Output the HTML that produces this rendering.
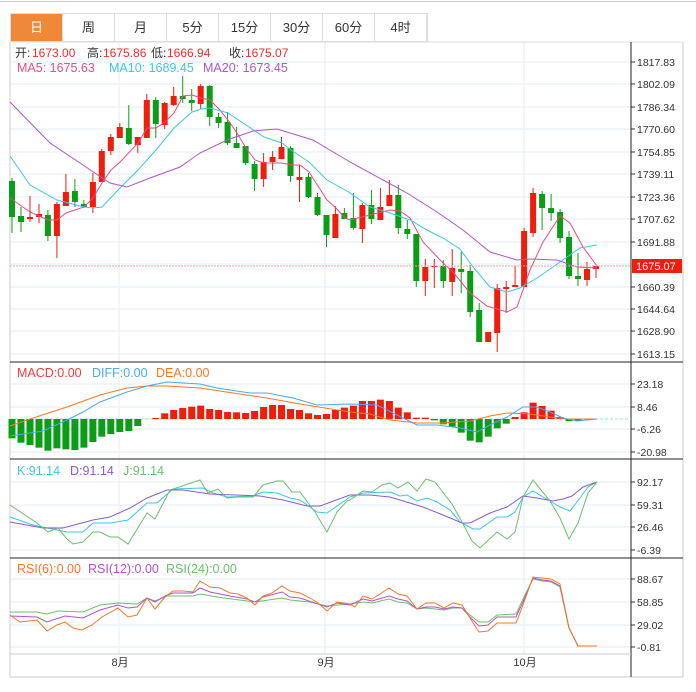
<!DOCTYPE html>
<html><head><meta charset="utf-8">
<style>
html,body{margin:0;padding:0;background:#fff;width:696px;height:692px;overflow:hidden;font-family:"Liberation Sans","Noto Sans CJK SC",sans-serif;}
.tabs{position:absolute;left:10px;top:13px;height:27px;display:flex;border:1px solid #ddd;}
.tabs div{width:51px;height:27px;line-height:27px;text-align:center;font-size:13px;color:#333;border-right:1px solid #ddd;}
.tabs div.on{background:#f0883a;color:#fff;}
svg{position:absolute;left:0;top:0;}
</style></head><body>
<div style="position:absolute;left:0;top:1px;width:696px;height:1px;background:#ccc"></div>
<div class="tabs"><div class="on">日</div><div>周</div><div>月</div><div>5分</div><div>15分</div><div>30分</div><div>60分</div><div>4时</div></div>
<svg id="s" width="696" height="692" xmlns="http://www.w3.org/2000/svg" font-family="Liberation Sans, Noto Sans CJK SC, sans-serif"></svg>
<script>
var S=document.getElementById('s'),h='';
function L(x1,y1,x2,y2,c,w,d){h+='<line x1="'+x1+'" y1="'+y1+'" x2="'+x2+'" y2="'+y2+'" stroke="'+c+'" stroke-width="'+(w||1)+'"'+(d?' stroke-dasharray="'+d+'"':'')+'/>';}
function R(x,y,w,hh,c){h+='<rect x="'+x+'" y="'+y+'" width="'+w+'" height="'+Math.max(hh,1)+'" fill="'+c+'"/>';}
function T(x,y,t,c,s,a){h+='<text x="'+x+'" y="'+y+'" fill="'+c+'" font-size="'+(s||11)+'"'+(a?' text-anchor="'+a+'"':'')+'>'+t+'</text>';}
function P(pts,c){h+='<polyline fill="none" stroke="'+c+'" stroke-width="1" points="'+pts+'"/>';}
var G='#e6eef3';
[62,84,107,129,152,174,197,219,242,264,287,309,331,354].forEach(function(y){L(10,y,631,y,G);});
[384,407,429,452].forEach(function(y){L(10,y,631,y,G);});
[482,505,527,550].forEach(function(y){L(10,y,631,y,G);});
[579,602,625,647].forEach(function(y){L(10,y,631,y,G);});
[119,325,524].forEach(function(x){L(x,42,x,654,G);});
L(10,42,10,677,'#ccc');L(683,42,683,677,'#ccc');L(10,677,683,677,'#ccc');L(10,42,683,42,'#ddd');
L(631,42,631,677,'#222');
L(10,362,683,362,'#222');L(10,459,683,459,'#222');L(10,558,683,558,'#222');L(10,654,631,654,'#ccc');
var pl=[[62,'1817.83'],[84,'1802.09'],[107,'1786.34'],[129,'1770.60'],[152,'1754.85'],[174,'1739.11'],[197,'1723.36'],[219,'1707.62'],[242,'1691.88'],[287,'1660.39'],[309,'1644.64'],[331,'1628.90'],[354,'1613.15']];
function ax(arr){arr.forEach(function(a){L(631,a[0],635,a[0],'#333');T(637,a[0]+4,a[1],'#333',10.5);});}
ax(pl);ax([[384,'23.18'],[407,'8.46'],[429,'-6.26'],[452,'-20.98']]);
ax([[482,'92.17'],[505,'59.31'],[527,'26.46'],[550,'-6.39']]);
ax([[579,'88.67'],[602,'58.85'],[625,'29.02'],[647,'-0.81']]);
var r='#f01c0c',g='#0a9e16';
var C=[['g',181,217,178,233],['g',216,222,207,232],['r',217,219,196,222],['r',214,217,204,223],['g',215,236,210,241],['r',204,236,202,258],['r',192,206,174,206],['g',191,202,179,207],['g',204,207,200,208],['r',182,207,173,213],['r',151,182,149,182],['r',137,151,134,155],['r',127,138,123,138],['g',128,144,105,145],['r',137,145,137,153],['r',100,138,94,138],['g',100,124,97,138],['r',103,125,102,129],['r',96,105,87,106],['g',96,99,76,103],['g',100,103,89,111],['r',86,104,84,109],['g',86,117,85,126],['g',117,123,113,128],['g',122,143,112,145],['g',143,148,127,148],['g',146,163,146,165],['g',164,179,161,191],['r',162,179,153,187],['r',157,162,151,170],['r',147,159,137,159],['g',148,176,146,182],['r',177,180,165,202],['g',177,197,173,198],['g',197,215,193,216],['g',215,235,215,247],['r',214,238,206,238],['g',213,219,208,219],['g',218,228,193,230],['r',205,229,203,243],['g',205,219,190,224],['r',207,220,188,220],['r',195,206,180,206],['g',195,228,185,234],['g',229,234,220,239],['g',234,281,234,287],['r',267,281,259,296],['r',266,267,259,288],['g',266,281,260,288],['r',268,282,249,296],['g',269,272,252,293],['g',271,312,265,317],['g',310,342,303,342],['r',332,342,332,342],['r',288,333,284,352],['r',287,289,281,313],['r',285,287,266,287],['r',231,287,228,287],['r',193,233,188,237],['g',194,208,191,230],['g',208,213,194,221],['g',212,238,209,243],['g',237,276,231,279],['g',276,279,253,286],['r',269,280,262,286],['r',266,269,266,278]];
var sp=584/65;
C.forEach(function(c,i){var x=12+i*sp,col=c[0]=='r'?r:g;L(x.toFixed(1),c[3],x.toFixed(1),c[4],col);R((x-3).toFixed(1),c[1],6,c[2]-c[1],col);});
P('10,198 30,212 48,220 57,220 66,213 84,207 93,198 102,183 111,170 120,162 138,143 147,128 156,128 165,122 174,113 183,96 192,95 201,98 210,100 219,109 228,120 237,133 246,148 255,160 264,163 273,163 282,163 291,165 300,165 309,172 318,186 327,200 336,208 345,218 350,220 390,210 400,211 410,218 423,242 443,263 453,272 470,293 487,306 507,312 517,307 530,270 543,242 560,216 570,223 583,247 597,266','#ec4c80');
P('10,156 30,185 57,200 84,207 93,208 102,207 120,188 138,170 156,150 174,128 192,112 201,109 210,108 228,113 246,125 264,137 282,143 291,150 309,162 327,180 345,190 350,193 370,207 390,213 410,220 427,230 443,238 460,249 473,267 490,287 507,292 520,288 537,278 553,267 567,257 580,248 597,245','#3cc8e0');
P('10,102 50,143 110,183 127,187 150,178 180,167 200,153 227,140 253,131 277,129 313,140 350,162 383,180 407,193 437,212 463,230 490,252 517,260 530,259 557,260 577,267 597,268','#b054c8');
L(10,266,631,266,'#f5a0a0',1,'2,1');
R(632,259,50,14,r);T(636,270,'1675.07','#fff',11);
function TS(y,arr,s){arr.forEach(function(a){T(a[0],y,a[1],a[2],s||12.5);});}
var rd='#f02c2c',dk='#333';
TS(57,[[15,'开:',dk],[32,'1673.00',rd],[87,'高:',dk],[103,'1675.86',rd],[151,'低:',dk],[167,'1666.94',rd],[229,'收:',dk],[245,'1675.07',rd]],12);
TS(72,[[17,'MA5: 1675.63','#ec4c80'],[109,'MA10: 1689.45','#3cc8e0'],[203,'MA20: 1673.45','#b054c8']]);
TS(377,[[17,'MACD:0.00','#f03c3c'],[92,'DIFF:0.00','#4aa8f0'],[156,'DEA:0.00','#f5782a']]);
TS(475,[[17,'K:91.14','#3cc8e0'],[70,'D:91.14','#8a5cd0'],[123,'J:91.14','#6cbf6c']]);
TS(573,[[17,'RSI(6):0.00','#f5782a'],[88,'RSI(12):0.00','#b054c8'],[166,'RSI(24):0.00','#6cbf6c']]);
L(10,419,631,419,'#9fdcec',1,'3,2');
var gb=[250,263,270,278,287,280,283,285,278,261,245,237,231,228,213];
gb.forEach(function(v,i){var x=12+i*sp,y=355+v/3;R((x-3.5).toFixed(1),419,7,y-419,g);});
R(12+16*sp-3.5,418,7,1,r);
var rt=[175,165,159,155,152,162,165,171,172,174,168,156,150,150,162,165,175,180,177,165,158,152,138,138,134,138,158,172,188,188];
rt.forEach(function(v,i){var x=12+(17+i)*sp,y=355+v/3;R((x-3.5).toFixed(1),y,7,419-y,r);});
var g2=[196,208,215,233,257,262,245,220,206];
g2.forEach(function(v,i){var x=12+(47+i)*sp,y=355+v/3;R((x-3.5).toFixed(1),419,7,y-419,g);});
var r2=[186,172,143,153,167,186];
r2.forEach(function(v,i){var x=12+(56+i)*sp,y=355+v/3;R((x-3.5).toFixed(1),y,7,419-y,r);});
[200,200].forEach(function(v,i){var x=12+(62+i)*sp;R((x-3.5).toFixed(1),419,7,2,g);});
P('10,426 33,418 67,407 100,395 127,388 147,386 167,386 200,388 233,393 267,398 300,404 350,412 370,414 390,420 417,423 443,423 470,421 490,416 507,413 530,414 550,417 567,419 597,419','#f5782a');
P('10,436 43,431 67,420 83,412 100,402 127,392 147,386 167,382 200,384 217,388 250,393 267,393 293,398 317,405 350,404 377,405 397,415 417,425 437,425 460,428 477,432 490,425 507,417 523,407 537,407 550,412 563,418 577,421 597,419','#4aa8f0');
P('10,517 33,525 47,528 67,532 83,532 93,523 110,523 128,520 147,503 157,503 173,489 203,488 213,493 227,497 253,496 263,492 277,493 290,498 300,500 317,512 327,513 350,497 363,493 390,492 400,496 407,495 417,501 427,498 437,502 450,510 460,522 473,529 480,529 497,517 507,517 515,512 523,497 533,491 550,501 560,507 570,511 580,498 588,487 597,482','#3cc8e0');
P('10,522 43,528 63,528 93,520 110,517 130,508 147,498 167,490 183,490 210,494 260,496 283,500 307,506 320,506 350,495 370,495 390,497 423,507 443,515 462,523 470,523 490,513 507,507 523,496 537,498 553,501 563,499 572,496 583,487 597,482','#8a5cd0');
P('10,505 37,523 48,532 58,528 67,539 73,544 83,542 93,532 100,532 110,537 118,537 128,544 147,513 155,519 170,490 200,480 208,493 218,489 227,498 237,497 253,497 263,485 277,481 283,481 292,492 300,492 315,512 327,532 337,512 347,501 350,500 363,491 372,492 382,485 390,483 398,488 408,482 417,491 426,479 435,482 452,504 462,522 472,541 480,548 497,532 507,539 515,532 523,497 533,480 550,501 560,518 569,539 578,523 588,493 597,482','#6cbf6c');
P('10,612 37,612 47,614 58,611 83,612 100,605 118,603 137,604 147,598 155,601 167,596 193,596 200,594 217,597 247,601 255,602 282,598 290,600 310,602 327,606 350,604 363,602 372,603 389,599 398,602 407,603 417,609 426,608 444,610 453,608 462,608 470,615 479,622 488,622 497,615 516,614 523,599 533,579 542,581 551,582 560,587 569,628 578,646 597,646','#6cbf6c');
P('10,616 37,617 47,622 65,616 83,618 100,610 118,605 128,608 137,607 147,598 155,602 165,596 173,593 193,593 200,588 210,592 230,596 247,599 255,602 263,597 282,592 290,597 300,598 327,607 337,603 350,605 363,599 372,601 389,596 398,599 407,601 417,609 426,607 435,607 444,609 453,607 462,608 470,617 479,626 488,625 497,617 516,617 523,602 533,578 542,580 551,581 560,586 569,628 578,646 597,646','#b054c8');
P('10,615 20,622 37,620 47,631 57,625 65,622 73,628 82,630 92,625 102,617 118,608 128,617 137,615 147,598 155,609 165,597 173,591 183,591 193,592 200,581 210,587 220,588 230,593 238,594 247,598 255,605 263,596 272,593 282,586 290,591 300,593 310,598 318,603 327,611 337,602 350,604 355,607 363,596 372,599 380,594 389,588 398,594 407,596 417,609 426,603 435,603 444,608 453,603 462,605 470,618 479,632 488,631 497,623 516,623 523,605 533,577 542,578 551,579 560,584 569,628 578,646 597,646','#f5782a');
T(120,666,'8月','#333',11,'middle');T(326,666,'9月','#333',11,'middle');T(525,666,'10月','#333',11,'middle');
S.innerHTML=h;
</script>
</body></html>
